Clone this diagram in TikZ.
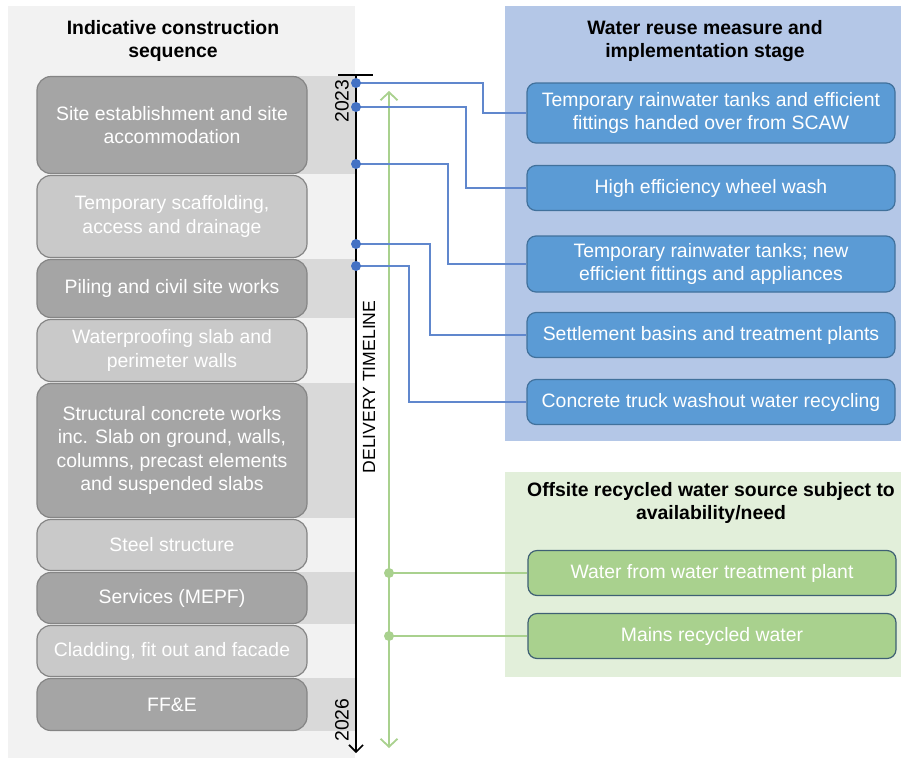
\documentclass[tikz,border=0pt]{standalone}
\usepackage{fontspec}
\setmainfont{Liberation Sans}
\usepackage{tikz}
\usetikzlibrary{arrows,arrows.meta,shapes,positioning}
\definecolor{panelgray}{HTML}{F2F2F2}
\definecolor{bandgray}{HTML}{D9D9D9}
\definecolor{stagedark}{HTML}{A5A5A5}
\definecolor{stagelight}{HTML}{C9C9C9}
\definecolor{stageline}{HTML}{858585}
\definecolor{bluepanel}{HTML}{B4C7E7}
\definecolor{measurefill}{HTML}{5B9BD5}
\definecolor{measureline}{HTML}{41719C}
\definecolor{linkblue}{HTML}{4472C4}
\definecolor{greenpanel}{HTML}{E2EFDA}
\definecolor{sourcefill}{HTML}{A9D18E}
\definecolor{sourceline}{HTML}{3F6074}
\newcommand{\bodyfont}{\fontsize{19.4}{23.5}\selectfont}
\tikzstyle{heading}=[align=center, inner sep=0pt
,font=\bfseries\bodyfont
]
\tikzstyle{stage}=[rectangle, draw=stageline, line width=1.2pt
,rounded corners=14pt
,minimum width=270pt
,inner sep=0pt
,align=center, text=white, font=\bodyfont
]
\tikzstyle{dark stage} = [stage, fill=stagedark]
\tikzstyle{light stage} = [stage, fill=stagelight]
\tikzstyle{measure}=[rectangle, draw=measureline, line width=1.2pt
,rounded corners=9pt
,minimum width=368pt
,inner sep=0pt
,align=center, text=white, font=\bodyfont
]
\tikzstyle{source} = [measure, fill=sourcefill, draw=sourceline]
\tikzstyle{year} = [rotate=90, inner sep=0pt, font=\bodyfont]
\tikzstyle{link} = [draw, linkblue!85, line width=1.2pt]
\tikzstyle{green link} = [draw, sourcefill, line width=1.2pt]
\tikzstyle{timeline} = [draw, line width=2pt, -{Straight Barb[length=7pt,width=14pt,line width=1.6pt]}]
\tikzstyle{offsite line} = [draw, sourcefill, line width=2pt
,{Straight Barb[length=8pt,width=17pt,line width=1.8pt]}-{Straight Barb[length=8pt,width=17pt,line width=1.8pt]}
]
\begin{document}
\begin{tikzpicture}[x=1pt,y=-1pt]
    \useasboundingbox (0,0) rectangle (901,758);
    % Background panels first
    \fill[panelgray] (8,6) rectangle (355,758);
    \fill[bluepanel] (505,6) rectangle (901,441);
    \fill[greenpanel] (505,472) rectangle (901,677);
    \foreach \top/\bot in {76/174, 259/318, 383/518, 572/624, 678/731}
        \fill[bandgray] (172,\top) rectangle (355,\bot);

    % Headings
    \node[heading] (seq title) at (173,41) {Indicative construction\\sequence};
    \node[heading] (reuse title) at (705,41) {Water reuse measure and\\implementation stage};
    \node[heading] (offsite title) at (711,503) {Offsite recycled water source subject to\\availability/need};

    % Construction sequence
    \foreach \name/\y/\h/\txt in {s1/125/97/{Site establishment and site\\accommodation}, s3/288.5/58/{Piling and civil site works}, s5/450.5/134/{Structural concrete works\\inc. Slab on ground, walls,\\columns, precast elements\\and suspended slabs}, s7/598/51/{Services (MEPF)}, s9/704.5/52/{FF\&E}}
        \node[dark stage, minimum height=\h pt] (\name) at (172,\y) {\txt};
    \foreach \name/\y/\h/\txt in {s2/216.5/82/{Temporary scaffolding,\\access and drainage}, s4/350.5/62/{Waterproofing slab and\\perimeter walls}, s6/545/51/{Steel structure}, s8/651/51/{Cladding, fit out and facade}}
        \node[light stage, minimum height=\h pt] (\name) at (172,\y) {\txt};

    % Water reuse measures
    \foreach \name/\y/\h/\txt in {m1/113/60/{Temporary rainwater tanks and efficient\\fittings handed over from SCAW}, m2/188/45/{High efficiency wheel wash}, m3/264/56/{Temporary rainwater tanks; new\\efficient fittings and appliances}, m4/335/45/{Settlement basins and treatment plants}, m5/402/45/{Concrete truck washout water recycling}}
        \node[measure, fill=measurefill, minimum height=\h pt] (\name) at (711,\y) {\txt};

    % Offsite sources
    \foreach \name/\y/\txt in {w1/573/{Water from water treatment plant}, w2/636/{Mains recycled water}}
        \node[source, minimum height=45pt] (\name) at (712,\y) {\txt};

    % Delivery timeline
    \coordinate (tl start) at (356,75);
    \coordinate (tl end) at (356,753);
    \draw[line width=2pt] (tl start) ++(-18,0) -- ++(35,0);
    \path[timeline] (tl start) -- (tl end);
    \node[year] (y start) at (342,101) {2023};
    \node[year] (y end) at (342,720) {2026};
    \node[year, font=\fontsize{17.6}{21}\selectfont] (tl label) at (369,387) {DELIVERY TIMELINE};

    % Offsite availability line
    \coordinate (off start) at (389,91);
    \coordinate (off end) at (389,748);
    \path[offsite line] (off start) -- (off end);

    % Connect timeline points with measures
    \foreach \name/\y in {d1/83, d2/107, d3/164, d4/244, d5/266}
        \coordinate (\name) at (356,\y);
    \foreach \source/\dest/\bend in {d1/m1/483, d2/m2/466, d3/m3/448, d4/m4/430, d5/m5/409}
        \path[link] (\source) -- (\bend,0 |- \source) |- (\dest.west);
    \foreach \name in {d1,d2,d3,d4,d5}
        \fill[linkblue] (\name) circle (5pt);

    \foreach \name/\y in {g1/573, g2/636}
        \coordinate (\name) at (389,\y);
    \foreach \source/\dest in {g1/w1, g2/w2}
        \path[green link] (\source) -- (\dest.west);
    \foreach \name in {g1,g2}
        \fill[sourcefill] (\name) circle (5pt);
\end{tikzpicture}
\end{document}
